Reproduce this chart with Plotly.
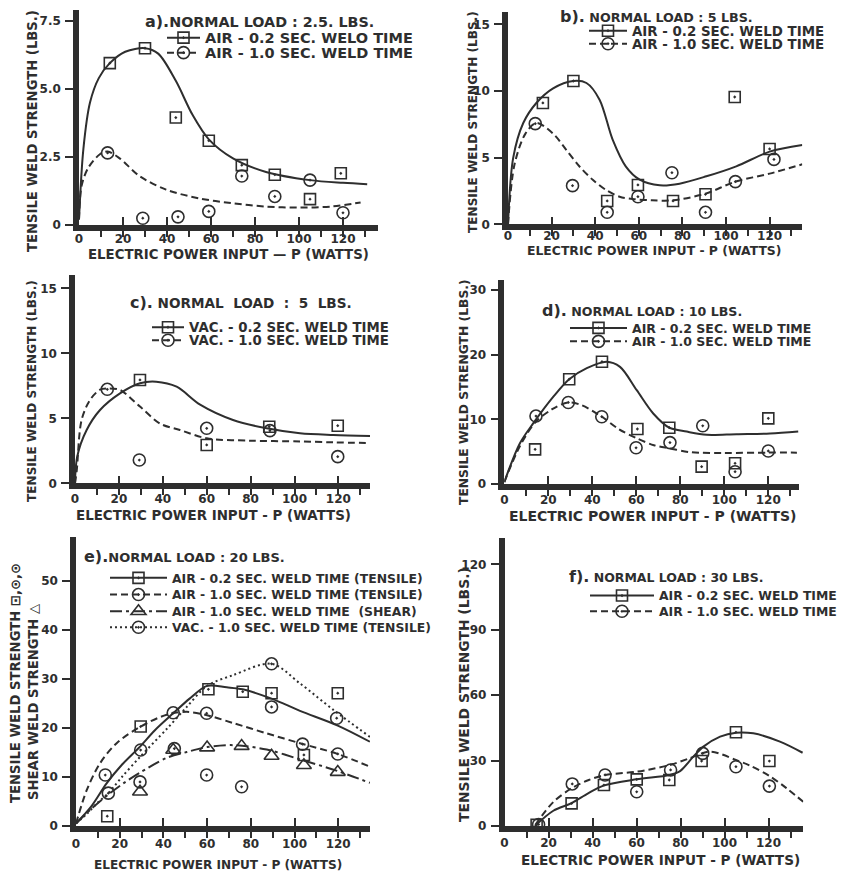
import plotly.graph_objects as go

W, H = 841, 873
INK = "#2e2e2e"
FONT = "DejaVu Sans, Verdana, sans-serif"

# ---------------- data ----------------
x_ticks = [0, 20, 40, 60, 80, 100, 120]

# a) normal load 2.5 lbs
a_sq_x = [14, 30, 44, 59, 74, 89, 105, 119]
a_sq_y = [5.95, 6.5, 3.95, 3.1, 2.2, 1.85, 0.95, 1.9]
a_ci_x = [13, 29, 45, 59, 74, 89, 105, 120]
a_ci_y = [2.65, 0.25, 0.3, 0.5, 1.8, 1.05, 1.65, 0.45]
a_fit1_x = [0, 2, 5, 9, 14, 21, 30, 36, 44, 51.6, 59, 70, 85, 105, 120, 131]
a_fit1_y = [0.2, 2.8, 4.5, 5.4, 5.95, 6.37, 6.5, 6.3, 5.3, 4.05, 3.15, 2.45, 1.95, 1.65, 1.55, 1.5]
a_fit2_x = [0, 1.2, 4.2, 9.5, 13, 18.5, 27.5, 39.6, 54.6, 69.6, 84.7, 100, 115, 128]
a_fit2_y = [0.2, 1.45, 2.1, 2.6, 2.7, 2.45, 1.8, 1.3, 0.98, 0.8, 0.68, 0.64, 0.68, 0.83]
a_yticks = [0, 2.5, 5.0, 7.5]
a_ytext = ["0", "2.5", "5.0", "7.5"]

# b) normal load 5 lbs (air)
b_sq_x = [16, 30, 45.5, 59.6, 75.7, 90.6, 104, 120]
b_sq_y = [9.1, 10.75, 1.75, 2.95, 1.75, 2.25, 9.55, 5.65]
b_ci_x = [12.5, 29.6, 45.5, 59.6, 75.2, 90.6, 104.3, 122]
b_ci_y = [7.55, 2.9, 0.9, 2.07, 3.87, 0.9, 3.2, 4.87]
b_fit1_x = [0, 2.4, 7, 13, 20.7, 30, 36, 42, 48, 54, 60.4, 69.6, 78.7, 91, 104.7, 120, 135]
b_fit1_y = [0, 5.0, 7.6, 9.1, 10.2, 10.75, 10.6, 9.35, 6.35, 4.35, 3.35, 2.93, 3.05, 3.6, 4.35, 5.45, 5.95]
b_fit2_x = [0, 3, 8, 13, 20.7, 26.8, 32.9, 39, 45, 51.2, 57.2, 66, 75.7, 90.6, 104.3, 120, 135]
b_fit2_y = [0, 4.5, 6.8, 7.6, 6.8, 5.57, 4.32, 3.32, 2.57, 2.07, 1.9, 1.8, 1.8, 2.3, 3.2, 3.8, 4.5]
b_yticks = [0, 5, 10, 15]

# c) normal load 5 lbs (vacuum)
c_sq_x = [29.6, 60, 88.5, 119.7]
c_sq_y = [7.95, 2.95, 4.35, 4.43]
c_ci_x = [14.7, 29.3, 60, 88.8, 119.7]
c_ci_y = [7.23, 1.79, 4.23, 4.05, 2.05]
c_fit1_x = [0, 1, 5.3, 11.4, 20.5, 29.6, 37, 46.3, 57, 72, 87.3, 102.5, 117.7, 134.4]
c_fit1_y = [0, 2.05, 4.1, 5.64, 6.92, 7.7, 7.82, 7.43, 6.05, 4.87, 4.23, 3.85, 3.72, 3.64]
c_fit2_x = [0, 0.8, 3, 6.8, 11.4, 15.2, 20.5, 29.6, 38.7, 47.8, 60, 79.7, 102.5, 117.7, 134.4]
c_fit2_y = [0, 1.0, 4.87, 6.4, 7.2, 7.3, 7.18, 5.9, 4.6, 4.1, 3.46, 3.28, 3.22, 3.15, 3.1]
c_yticks = [0, 5, 10, 15]

# d) normal load 10 lbs
d_sq_x = [14, 29.5, 44.4, 60.5, 75, 89.7, 104.9, 120]
d_sq_y = [5.36, 16.2, 18.9, 8.5, 8.7, 2.68, 3.2, 10.15]
d_ci_x = [14.4, 29.1, 44.3, 59.9, 75.3, 90.2, 104.9, 120]
d_ci_y = [10.5, 12.6, 10.4, 5.6, 6.4, 9.0, 1.9, 5.1]
d_fit1_x = [0, 7.1, 13.2, 22.3, 29.5, 37.5, 46.5, 52.6, 60.2, 67.7, 75, 82.9, 92, 105.6, 120.8, 133.6]
d_fit1_y = [0.3, 6.3, 9.4, 13.5, 16.2, 17.9, 18.9, 18.1, 14.5, 10.9, 8.7, 8.1, 7.6, 7.7, 7.8, 8.1]
d_fit2_x = [0, 7, 14, 22, 29, 35, 44.3, 52, 60.2, 68, 75.3, 85, 100, 120, 133]
d_fit2_y = [0.3, 5.8, 9.5, 11.6, 12.6, 12.2, 10.4, 8.5, 7.06, 6.0, 5.5, 4.9, 4.8, 4.85, 4.85]
d_yticks = [0, 10, 20, 30]

# e) normal load 20 lbs
e_sq_x = [14.3, 29.6, 60.6, 76.3, 89.5, 104.3, 119.8]
e_sq_y = [2.0, 20.3, 27.9, 27.4, 27.1, 14.5, 27.1]
e_ci_x = [13.4, 29.6, 44.5, 59.8, 89.5, 103.7, 119.8]
e_ci_y = [10.4, 15.5, 23.1, 23.0, 24.3, 16.7, 14.7]
e_tr_x = [29.3, 44.5, 60, 75.8, 89.5, 104.3, 119.8]
e_tr_y = [7.0, 15.5, 16.0, 16.3, 14.3, 12.4, 11.0]
e_vc_x = [14.8, 29.3, 45, 59.8, 75.8, 89.5, 119.3]
e_vc_y = [6.7, 9.0, 15.8, 10.4, 8.0, 33.1, 22.0]
e_fit1_x = [0, 7, 14, 21, 29.3, 36, 44.5, 52, 60, 69, 76.3, 89.5, 102.5, 119.8, 134.5]
e_fit1_y = [0.5, 4, 8.7, 12.5, 16.2, 19.5, 23, 26, 28.6, 28.3, 27.9, 26, 23.5, 20.5, 17.2]
e_fit2_x = [0, 4.9, 11, 18.6, 29.6, 41.5, 50.7, 60, 72, 87.3, 102.5, 119.8, 134.5]
e_fit2_y = [0.5, 7.3, 12.8, 16.9, 20.3, 22.7, 23.3, 22.6, 21, 18.9, 16.9, 14.7, 12.1]
e_fit3_x = [0, 7, 15, 22, 29.3, 41.5, 50.7, 60, 72, 87.3, 102.5, 119.8, 134.5]
e_fit3_y = [0.5, 3.5, 6.5, 8.8, 10.9, 13.9, 15.1, 16.1, 16.5, 15.6, 13.6, 11.2, 8.8]
e_fit4_x = [0, 5, 10, 14.8, 21, 29.3, 41.5, 50.7, 60, 72, 89.5, 102.5, 117.8, 134.5]
e_fit4_y = [0.5, 2.5, 4.8, 6.7, 10, 14.1, 19.8, 24.3, 28.6, 30.8, 33.1, 29.1, 23.7, 18.2]
e_yticks = [0, 10, 20, 30, 40, 50]

# f) normal load 30 lbs
f_sq_x = [14.6, 30.5, 45.2, 60.1, 74.9, 89.6, 105.2, 120.4]
f_sq_y = [0.5, 10.4, 18.8, 21.4, 21.1, 29.8, 43, 29.8]
f_ci_x = [15.5, 30.8, 45.7, 60.1, 75.5, 90.1, 105.2, 120.4]
f_ci_y = [0.7, 19.3, 23.4, 15.7, 25.7, 33.3, 27.2, 18.3]
f_fit1_x = [13.8, 22.2, 30.5, 38, 45, 60, 75, 79.8, 85.8, 90.4, 98, 105.2, 113.1, 125.2, 135.5]
f_fit1_y = [0, 7, 10.5, 15, 18.5, 21.4, 23.4, 25.2, 31.8, 36.4, 41, 42.8, 42.5, 38.7, 33.6]
f_fit2_x = [14, 22.2, 30.8, 38, 45.7, 60.1, 75.2, 84, 93.4, 105.2, 112, 120.4, 128, 135.8]
f_fit2_y = [0.5, 11, 17.5, 21, 23.4, 24.9, 28, 31, 34.1, 30.3, 27.5, 23, 17.5, 11.1]
f_yticks = [0, 30, 60, 90, 120]

# ---------------- layout geometry (pixels) ----------------
geo = {
    "a": dict(x0=79, xs=2.2, xmax=136, y0=225, ys=27.2, ymax=7.9, std=-2),
    "b": dict(x0=508, xs=2.18, xmax=135, y0=224.3, ys=13.33, ymax=15.9, std=-4),
    "c": dict(x0=75, xs=2.195, xmax=134.5, y0=483.3, ys=13.0, ymax=16, std=0),
    "d": dict(x0=504.3, xs=2.2, xmax=134, y0=484, ys=6.47, ymax=31.5, std=0),
    "e": dict(x0=76, xs=2.185, xmax=134.5, y0=826, ys=4.9, ymax=59, std=2),
    "f": dict(x0=504.5, xs=2.2, xmax=135.8, y0=826, ys=2.18, ymax=132, std=1),
}

SOLID = "solid"
DASH = "7px,4px"
DOT = "2px,3px"
DASHDOT = "12px,4px,3px,4px"

SQ = dict(symbol="square-open-dot", size=11, color=INK, line=dict(width=1.6, color=INK))
CI = dict(symbol="circle-open-dot", size=12, color=INK, line=dict(width=1.6, color=INK))
TR = dict(symbol="triangle-up-open", size=13, color=INK, line=dict(width=1.6, color=INK))

panels = [
    ("a", [(a_fit1_x, a_fit1_y, SOLID), (a_fit2_x, a_fit2_y, DASH)],
     [(a_sq_x, a_sq_y, SQ), (a_ci_x, a_ci_y, CI)], a_yticks, a_ytext),
    ("b", [(b_fit1_x, b_fit1_y, SOLID), (b_fit2_x, b_fit2_y, DASH)],
     [(b_sq_x, b_sq_y, SQ), (b_ci_x, b_ci_y, CI)], b_yticks, None),
    ("c", [(c_fit1_x, c_fit1_y, SOLID), (c_fit2_x, c_fit2_y, DASH)],
     [(c_sq_x, c_sq_y, SQ), (c_ci_x, c_ci_y, CI)], c_yticks, None),
    ("d", [(d_fit1_x, d_fit1_y, SOLID), (d_fit2_x, d_fit2_y, DASH)],
     [(d_sq_x, d_sq_y, SQ), (d_ci_x, d_ci_y, CI)], d_yticks, None),
    ("e", [(e_fit1_x, e_fit1_y, SOLID), (e_fit2_x, e_fit2_y, DASH),
           (e_fit3_x, e_fit3_y, DASHDOT), (e_fit4_x, e_fit4_y, DOT)],
     [(e_sq_x, e_sq_y, SQ), (e_ci_x, e_ci_y, CI), (e_tr_x, e_tr_y, TR), (e_vc_x, e_vc_y, CI)],
     e_yticks, None),
    ("f", [(f_fit1_x, f_fit1_y, SOLID), (f_fit2_x, f_fit2_y, DASH)],
     [(f_sq_x, f_sq_y, SQ), (f_ci_x, f_ci_y, CI)], f_yticks, None),
]

# legend entries: (label, dash, marker, legend-left px, row y px, font size, item width)
legend_rows = [
    ("AIR - 0.2 SEC. WELO TIME", SOLID, SQ, 162, 37.7, 14.5, 33),
    ("AIR - 1.0 SEC. WELD TIME", DASH, CI, 162, 52.7, 14.5, 33),
    ("AIR - 0.2 SEC. WELD TIME", SOLID, SQ, 584, 31.0, 13.4, 38),
    ("AIR - 1.0 SEC. WELD TIME", DASH, CI, 584, 44.0, 13.4, 38),
    ("VAC. - 0.2 SEC. WELD TIME", SOLID, SQ, 147, 327.6, 13.3, 32),
    ("VAC. - 1.0 SEC. WELD TIME", DASH, CI, 147, 340.6, 13.3, 32),
    ("AIR - 0.2 SEC. WELD TIME", SOLID, SQ, 565, 328.3, 12.5, 57),
    ("AIR - 1.0 SEC. WELD TIME", DASH, CI, 565, 341.7, 12.5, 57),
    ("AIR - 0.2 SEC. WELD TIME (TENSILE)", SOLID, SQ, 105, 578.3, 12.4, 57),
    ("AIR - 1.0 SEC. WELD TIME (TENSILE)", DASH, CI, 105, 595.0, 12.4, 57),
    ("AIR - 1.0 SEC. WELD TIME  (SHEAR)", DASHDOT, TR, 105, 611.7, 12.4, 57),
    ("VAC. - 1.0 SEC. WELD TIME (TENSILE)", DOT, CI, 105, 627.7, 12.4, 57),
    ("AIR - 0.2 SEC. WELD TIME", SOLID, SQ, 585, 596.0, 12.4, 64),
    ("AIR - 1.0 SEC. WELD TIME", DASH, CI, 585, 611.7, 12.4, 64),
]

# panel titles: (lead, rest, left px, centre y px, font size)
titles = [
    ("a).", "NORMAL LOAD : 2.5. LBS.", 143, 21.7, 14.3),
    ("b).", " NORMAL LOAD : 5 LBS.", 558, 16.5, 12.7),
    ("c).", " NORMAL\u00a0 LOAD\u00a0 :\u00a0 5\u00a0 LBS.", 128, 302.7, 13.6),
    ("d).", " NORMAL LOAD : 10 LBS.", 540, 310.0, 12.6),
    ("e).", "NORMAL LOAD : 20 LBS.", 82, 556.0, 13),
    ("f).", " NORMAL LOAD : 30 LBS.", 567, 576.0, 12.5),
]

xtitles = [
    ("ELECTRIC POWER INPUT \u2014 P (WATTS)", 228, 254, 13.3),
    ("ELECTRIC POWER INPUT - P (WATTS)", 654, 251, 12.4),
    ("ELECTRIC POWER INPUT - P (WATTS)", 213, 515, 13.4),
    ("ELECTRIC POWER INPUT - P (WATTS)", 653, 515.5, 14),
    ("ELECTRIC POWER INPUT - P (WATTS)", 218, 865.3, 12.1),
    ("ELECTRIC POWER INPUT - P (WATTS)", 660, 860, 13.6),
]
ytitles = [
    ("TENSILE WELD STRENGTH (LBS.)", 32, 131, 13.2),
    ("TENSILE WELD STRENGTH (LBS.)", 473, 122, 12.1),
    ("TENSILE WELD STRENGTH (LBS.)", 32, 391, 12.1),
    ("TENSILE WELD STRENGTH (LBS.)", 464, 392, 12.3),
    ("TENSILE WELD STRENGTH \u22a1,\u2299,\u2299", 15, 683, 13.2),
    ("SHEAR WELD STRENGTH \u25b3", 33, 702, 13.2),
    ("TENSILE WELD STRENGTH (LBS.)", 464, 695, 13.9),
]

fig = go.Figure()
layout = dict(
    width=W, height=H, margin=dict(l=0, r=0, t=0, b=0, autoexpand=False),
    paper_bgcolor="white", plot_bgcolor="rgba(0,0,0,0)",
    font=dict(family=FONT, color=INK, size=13),
    annotations=[],
)

for i, (key, fits, pts, yt, ytxt) in enumerate(panels):
    g = geo[key]
    n = "" if i == 0 else str(i + 1)
    xa, ya = "x" + n, "y" + n
    layout["xaxis" + n] = dict(
        domain=[g["x0"] / W, (g["x0"] + g["xs"] * g["xmax"]) / W],
        range=[0, g["xmax"]], anchor=ya, showgrid=False, zeroline=False,
        showline=True, linewidth=5.5, linecolor=INK,
        tickvals=x_ticks, ticks="inside", ticklen=8, tickwidth=1.8, tickcolor=INK,
        minor=dict(dtick=10, tick0=0, ticks="outside", ticklen=6, tickwidth=1.6, tickcolor=INK),
        tickfont=dict(size=12, family=FONT, color=INK, weight="bold"),
        ticklabelstandoff=g["std"], fixedrange=True,
    )
    layout["yaxis" + n] = dict(
        domain=[1 - g["y0"] / H, 1 - (g["y0"] - g["ys"] * g["ymax"]) / H],
        range=[0, g["ymax"]], anchor=xa, showgrid=False, zeroline=False,
        showline=True, linewidth=5.5, linecolor=INK,
        tickvals=yt, ticktext=ytxt if ytxt else [str(v) for v in yt],
        ticks="outside", ticklen=8, tickwidth=1.8, tickcolor=INK,
        tickfont=dict(size=12, family=FONT, color=INK, weight="bold"),
        ticklabelstandoff=2, fixedrange=True,
    )
    for fx, fy, dash in fits:
        fig.add_trace(go.Scatter(x=fx, y=fy, xaxis=xa, yaxis=ya, mode="lines",
                                 line=dict(color=INK, width=2, dash=dash, shape="spline", smoothing=0.9),
                                 showlegend=False, hoverinfo="skip", cliponaxis=False))
    for px, py, mk in pts:
        fig.add_trace(go.Scatter(x=px, y=py, xaxis=xa, yaxis=ya, mode="markers",
                                 marker=mk, showlegend=False, hoverinfo="skip", cliponaxis=False))

# legends: one per row so the rows sit where the reference has them
for j, (label, dash, mk, left, rowy, fs, iw) in enumerate(legend_rows):
    lid = "legend" if j == 0 else "legend" + str(j + 1)
    fig.add_trace(go.Scatter(x=[None], y=[None], mode="lines+markers", name=label,
                             line=dict(color=INK, width=2, dash=dash), marker=mk,
                             legend=lid, showlegend=True))
    layout[lid] = dict(x=left / W, y=1 - rowy / H, xanchor="left", yanchor="middle",
                       bgcolor="rgba(0,0,0,0)", borderwidth=0, itemwidth=iw,
                       font=dict(size=fs, family=FONT, color=INK, weight="bold"),
                       itemclick=False, itemdoubleclick=False)

for lead, rest, x, y, fs in titles:
    layout["annotations"].append(dict(
        text="<b><span style='font-size:16px'>%s</span>%s</b>" % (lead, rest),
        x=x / W, y=1 - y / H, xref="paper", yref="paper", xanchor="left", yanchor="middle",
        showarrow=False, font=dict(size=fs, family=FONT, color=INK)))

for text, x, y, fs in xtitles:
    layout["annotations"].append(dict(
        text="<b>%s</b>" % text, x=x / W, y=1 - y / H, xref="paper", yref="paper",
        xanchor="center", yanchor="middle", showarrow=False,
        font=dict(size=fs, family=FONT, color=INK)))

for text, x, y, fs in ytitles:
    layout["annotations"].append(dict(
        text="<b>%s</b>" % text, x=x / W, y=1 - y / H, xref="paper", yref="paper",
        xanchor="center", yanchor="middle", textangle=-90, showarrow=False,
        font=dict(size=fs, family=FONT, color=INK)))

fig.update_layout(**layout)
fig.write_html("out.html", config={"displayModeBar": False},
               post_script="document.body.style.margin='0';document.body.style.overflow='hidden';")
